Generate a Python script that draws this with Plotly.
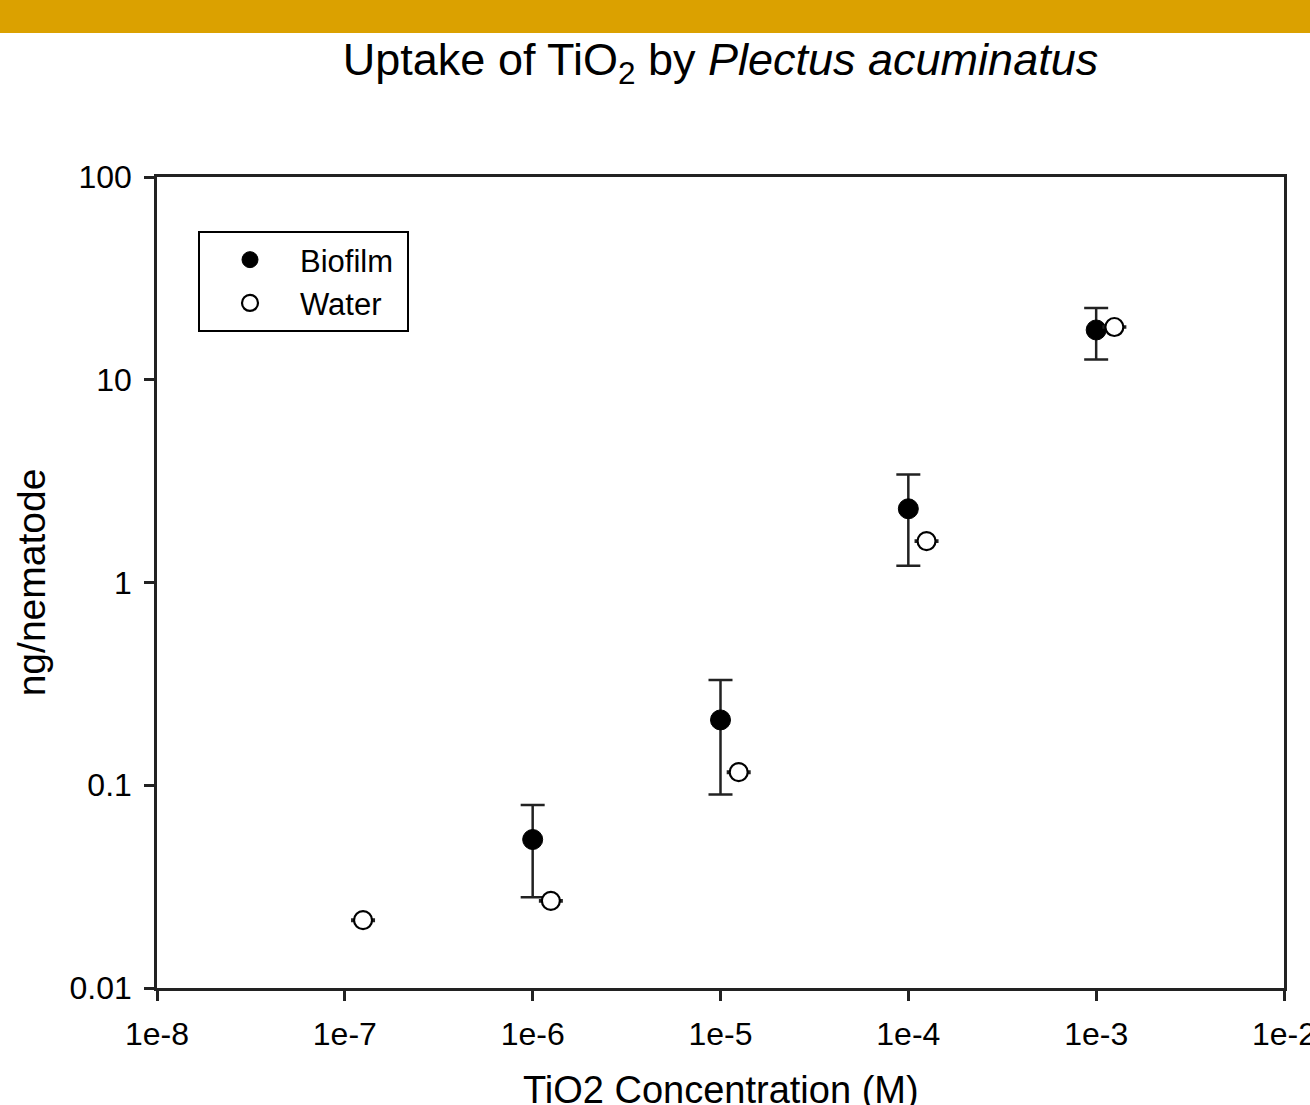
import plotly.graph_objects as go

# Data
conc_biofilm = [1e-6, 1e-5, 1e-4, 1e-3]
biofilm = [0.054, 0.21, 2.31, 17.6]
biofilm_err = [0.026, 0.12, 1.1, 5.0]

conc_water = [1.25e-7, 1.25e-6, 1.25e-5, 1.25e-4, 1.25e-3]
water = [0.0216, 0.0269, 0.116, 1.60, 18.2]
water_err = [0.0002, 0.0002, 0.001, 0.01, 0.1]

x_tickvals = [1e-8, 1e-7, 1e-6, 1e-5, 1e-4, 1e-3, 1e-2]
x_ticktext = ["1e-8", "1e-7", "1e-6", "1e-5", "1e-4", "1e-3", "1e-2"]
y_tickvals = [0.01, 0.1, 1, 10, 100]
y_ticktext = ["0.01", "0.1", "1", "10", "100"]

FONT = "Liberation Sans, Arial, sans-serif"
AX = "#222222"

fig = go.Figure()
fig.add_trace(go.Scatter(
    x=conc_biofilm, y=biofilm, mode="markers", name="Biofilm\u00a0",
    marker=dict(symbol="circle", size=20, color="black", line=dict(color="black", width=1)),
    error_y=dict(type="data", array=biofilm_err, visible=True, color=AX, thickness=2.5, width=12),
))
fig.add_trace(go.Scatter(
    x=conc_water, y=water, mode="markers", name="Water",
    marker=dict(symbol="circle", size=18, color="white", line=dict(color="black", width=2.2)),
    error_y=dict(type="data", array=water_err, visible=True, color=AX, thickness=2.5, width=12),
))

W, H = 1310, 1105
L, R, T, B = 157, 26, 177, 117
pw, ph = W - L - R, H - T - B

fig.add_shape(type="rect", xref="paper", yref="paper",
              x0=-L / pw, x1=1 + R / pw, y0=1 + (T - 33) / ph, y1=1 + T / ph,
              fillcolor="#DBA100", line=dict(width=0), layer="above")

fig.add_annotation(text="TiO2 Concentration (M)", xref="paper", yref="paper",
                   x=0.5, y=-(1067 - (H - B)) / ph, xanchor="center", yanchor="top",
                   showarrow=False, font=dict(size=38, family=FONT, color="black"))

fig.update_layout(
    width=W, height=H,
    margin=dict(l=L, r=R, t=T, b=B, autoexpand=False),
    paper_bgcolor="white", plot_bgcolor="white",
    font=dict(family=FONT, color="black"),
    title=dict(text="Uptake of TiO<sub>2</sub> by <i>Plectus acuminatus</i>",
               x=(L + pw / 2) / W, xanchor="center", y=1 - 75 / H, yanchor="bottom",
               font=dict(size=45, family=FONT, color="black")),
    showlegend=True,
    legend=dict(x=(198 - L) / pw, y=1 - (231 - T) / ph, xanchor="left", yanchor="top",
                bgcolor="white", bordercolor="black", borderwidth=2,
                font=dict(size=31, family=FONT, color="black"),
                itemwidth=90, tracegroupgap=0),
    xaxis=dict(type="log", range=[-8, -2], tickvals=x_tickvals, ticktext=x_ticktext,
               automargin=False, ticklabeloverflow="allow",
               showgrid=False, zeroline=False, showline=True, linecolor=AX, linewidth=2.5,
               mirror=True, ticks="outside", ticklen=10, tickwidth=2.5, tickcolor=AX,
               tickfont=dict(size=32, family=FONT, color="black"),
               ticklabelstandoff=6),
    yaxis=dict(type="log", range=[-2, 2], tickvals=y_tickvals, ticktext=y_ticktext,
               automargin=False,
               showgrid=False, zeroline=False, showline=True, linecolor=AX, linewidth=2.5,
               mirror=True, ticks="outside", ticklen=10, tickwidth=2.5, tickcolor=AX,
               tickfont=dict(size=32, family=FONT, color="black"),
               ticklabelstandoff=6,
               title=dict(text="ng/nematode", font=dict(size=39, family=FONT, color="black"),
                          standoff=12)),
)

fig.write_html("out.html")
